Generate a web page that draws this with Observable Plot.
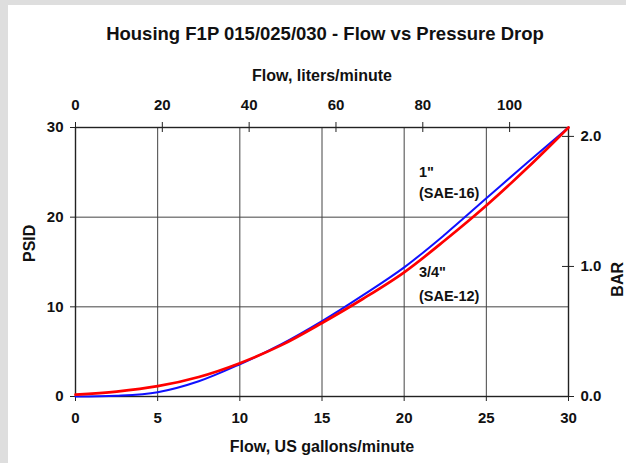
<!DOCTYPE html>
<html>
<head>
<meta charset="utf-8">
<script src="https://cdn.jsdelivr.net/npm/d3@7"></script>
<script src="https://cdn.jsdelivr.net/npm/@observablehq/plot@0.6"></script>
<style>
  html, body { margin: 0; padding: 0; background: #dedede; }
  #page { position: absolute; left: 8px; top: 5px; width: 618px; height: 458px; background: #ffffff; overflow: hidden; }
  #title { height: 40px; box-sizing: border-box; padding-top: 18px; padding-left: 16px; line-height: 20px;
           text-align: center; font: bold 18.5px "Liberation Sans", Arial, sans-serif; color: #111; white-space: nowrap; }
  #chart svg { display: block; }
</style>
</head>
<body>
<div id="page">
  <div id="title">Housing F1P 015/025/030 - Flow vs Pressure Drop</div>
  <div id="chart"></div>
</div>
<script>
// Data
const gpm      = [0, 2.5, 5, 7.5, 10, 12.5, 15, 17.5, 20, 22.5, 25, 27.5, 30];
const psiSAE16 = [0, 0.08, 0.48, 1.7, 3.6, 5.8, 8.4, 11.3, 14.4, 18.1, 22.1, 26.1, 30];
const psiSAE12 = [0.2, 0.55, 1.15, 2.18, 3.72, 5.7, 8.2, 10.9, 13.85, 17.45, 21.3, 25.5, 30];

const gpmTicks   = [0, 5, 10, 15, 20, 25, 30];
const psiTicks   = [0, 10, 20, 30];
const literTicks = [0, 20, 40, 60, 80, 100];
const barTicks   = [0.0, 1.0, 2.0];

const labelText = ['1"', "(SAE-16)", '3/4"', "(SAE-12)"];
const labelX    = [20.9, 20.9, 20.9, 20.9];
const labelY    = [24.98, 22.64, 13.83, 11.15];

const L_PER_GAL = 3.785411784;
const PSI_PER_BAR = 14.5037738;

const s16 = gpm.map((x, i) => ({x, y: psiSAE16[i]}));
const s12 = gpm.map((x, i) => ({x, y: psiSAE12[i]}));
const labels = labelText.map((t, i) => ({t, x: labelX[i], y: labelY[i]}));
const literPos = literTicks.map(l => l / L_PER_GAL);
const barPos = barTicks.map(b => b * PSI_PER_BAR);

const font = '"Liberation Sans", Arial, sans-serif';
const gridColor = "#444";
const frameColor = "#222";

const chart = Plot.plot({
  width: 618,
  height: 418,
  marginLeft: 67,
  marginRight: 58,
  marginTop: 82,
  marginBottom: 67,
  style: { fontFamily: font, fontWeight: "bold", fontSize: "15px", color: "#111", background: "transparent" },
  x: { domain: [0, 30] },
  y: { domain: [0, 30] },
  marks: [
    // grid
    Plot.ruleX([5, 10, 15, 20, 25], { stroke: gridColor, strokeWidth: 1 }),
    Plot.ruleY([10, 20], { stroke: gridColor, strokeWidth: 1 }),
    // frame
    Plot.frame({ stroke: frameColor, strokeWidth: 1.4 }),
    // tick marks
    Plot.ruleX(gpmTicks, { y1: 0, y2: 0, insetTop: 0, insetBottom: -5, stroke: frameColor }),
    Plot.ruleY(psiTicks, { x1: 0, x2: 0, insetLeft: -5, insetRight: 0, stroke: frameColor }),
    Plot.ruleX(literPos, { y1: 30, y2: 30, insetTop: -5, insetBottom: -5, stroke: frameColor }),
    Plot.ruleY(barPos, { x1: 30, x2: 30, insetLeft: -6, insetRight: -6, stroke: frameColor }),
    // axes (labels only)
    Plot.axisX({ anchor: "bottom", ticks: gpmTicks, tickSize: 0, tickPadding: 16, label: null, fontSize: 15 }),
    Plot.axisY({ anchor: "left", ticks: psiTicks, tickSize: 0, tickPadding: 12, label: null, fontSize: 15 }),
    Plot.axisX({ anchor: "top", ticks: literPos, tickSize: 0, tickPadding: 18, label: null, fontSize: 15,
                 tickFormat: d => String(Math.round(d * L_PER_GAL)) }),
    Plot.axisY({ anchor: "right", ticks: barPos, tickSize: 0, tickPadding: 12, label: null, fontSize: 15,
                 tickFormat: d => (d / PSI_PER_BAR).toFixed(1) }),
    // axis titles
    Plot.text(["Flow, liters/minute"], { frameAnchor: "top", dy: -52, fontSize: 16, fontWeight: "bold", lineAnchor: "middle" }),
    Plot.text(["Flow, US gallons/minute"], { frameAnchor: "bottom", dy: 50, fontSize: 16, fontWeight: "bold", lineAnchor: "middle" }),
    Plot.text(["PSID"], { frameAnchor: "left", dx: -46, rotate: -90, fontSize: 16, fontWeight: "bold", lineAnchor: "middle" }),
    Plot.text(["BAR"], { frameAnchor: "right", dx: 49, rotate: -90, fontSize: 16, fontWeight: "bold", lineAnchor: "middle" }),
    // curves
    Plot.line(s16, { x: "x", y: "y", stroke: "#1010ff", strokeWidth: 2, curve: "catmull-rom" }),
    Plot.line(s12, { x: "x", y: "y", stroke: "#ff0000", strokeWidth: 2.7, curve: "catmull-rom" }),
    // annotations
    Plot.text(labels, { x: "x", y: "y", text: "t", textAnchor: "start", fontSize: 14.5, fontWeight: "bold", lineAnchor: "middle" })
  ]
});
document.getElementById("chart").appendChild(chart);
</script>
</body>
</html>
